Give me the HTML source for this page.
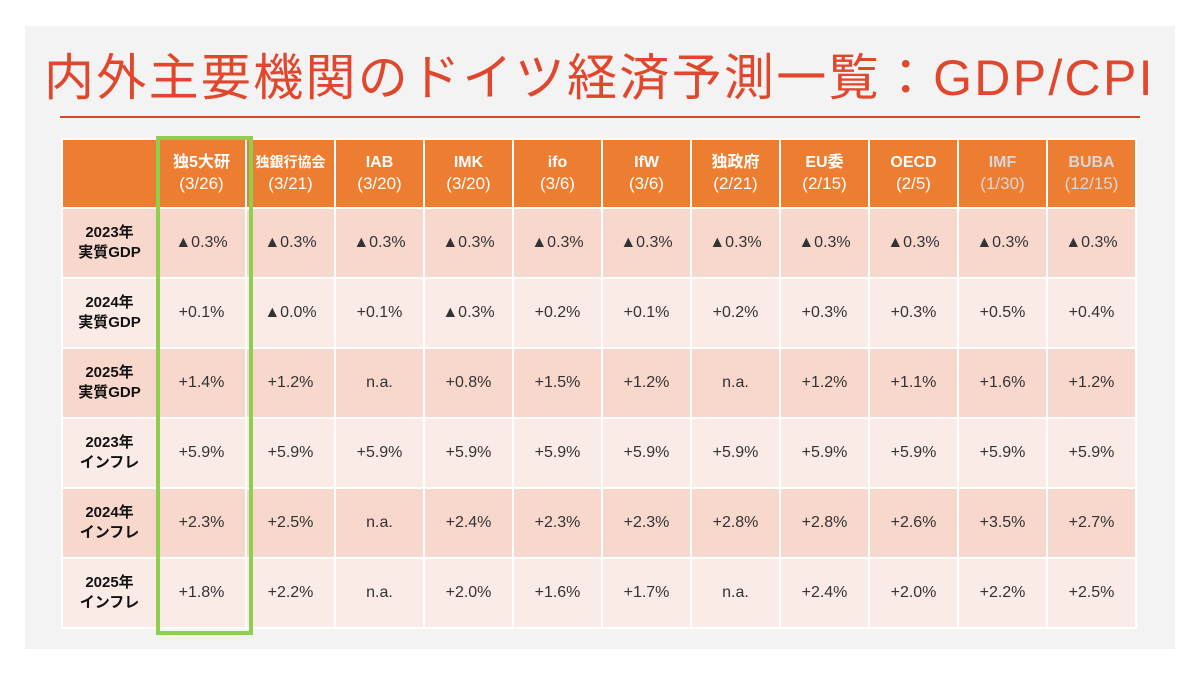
<!DOCTYPE html>
<html><head><meta charset="utf-8">
<style>
body{margin:0;width:1200px;height:675px;background:#fff;overflow:hidden;font-family:"Liberation Sans","Noto Sans CJK JP",sans-serif;}
#panel{position:absolute;left:25px;top:26px;width:1150px;height:623px;background:#f3f3f3;}
#title{position:absolute;left:44px;top:38px;font-size:50px;color:#e0472c;white-space:nowrap;letter-spacing:2.3px;}
#rule{position:absolute;left:60px;top:116px;width:1080px;height:2px;background:#d9472b;}
table{position:absolute;left:61px;top:138px;border-collapse:collapse;table-layout:fixed;}
td,th{border:2px solid #fff;text-align:center;padding:0;height:68px;}
th{background:#ed7d31;color:#fff;font-size:16px;font-weight:bold;line-height:21px;height:67px;}
th .d{font-weight:normal;font-size:17px;}
th.g{color:#d7d7d7;}
td{font-size:16px;color:#333;}
td.h{font-weight:bold;color:#111;font-size:15px;line-height:20px;}
tr.a td{background:#f8d7cd;}
tr.b td{background:#fbebe7;}
#hl{position:absolute;left:156px;top:136px;width:89px;height:491px;border:4px solid #8fcf4f;}
</style></head><body>
<div id="panel"></div>
<div id="title">内外主要機関のドイツ経済予測一覧：GDP/CPI</div>
<div id="rule"></div>
<table>
<colgroup><col style="width:95px"><col span="11" style="width:89px"></colgroup>
<tr>
<th></th>
<th>独5大研<br><span class="d">(3/26)</span></th>
<th style="font-size:14px">独銀行協会<br><span class="d">(3/21)</span></th>
<th>IAB<br><span class="d">(3/20)</span></th>
<th>IMK<br><span class="d">(3/20)</span></th>
<th>ifo<br><span class="d">(3/6)</span></th>
<th>IfW<br><span class="d">(3/6)</span></th>
<th>独政府<br><span class="d">(2/21)</span></th>
<th>EU委<br><span class="d">(2/15)</span></th>
<th>OECD<br><span class="d">(2/5)</span></th>
<th class="g">IMF<br><span class="d">(1/30)</span></th>
<th class="g">BUBA<br><span class="d">(12/15)</span></th>
</tr>
<tr class="a"><td class="h">2023年<br>実質GDP</td><td>▲0.3%</td><td>▲0.3%</td><td>▲0.3%</td><td>▲0.3%</td><td>▲0.3%</td><td>▲0.3%</td><td>▲0.3%</td><td>▲0.3%</td><td>▲0.3%</td><td>▲0.3%</td><td>▲0.3%</td></tr>
<tr class="b"><td class="h">2024年<br>実質GDP</td><td>+0.1%</td><td>▲0.0%</td><td>+0.1%</td><td>▲0.3%</td><td>+0.2%</td><td>+0.1%</td><td>+0.2%</td><td>+0.3%</td><td>+0.3%</td><td>+0.5%</td><td>+0.4%</td></tr>
<tr class="a"><td class="h">2025年<br>実質GDP</td><td>+1.4%</td><td>+1.2%</td><td>n.a.</td><td>+0.8%</td><td>+1.5%</td><td>+1.2%</td><td>n.a.</td><td>+1.2%</td><td>+1.1%</td><td>+1.6%</td><td>+1.2%</td></tr>
<tr class="b"><td class="h">2023年<br>インフレ</td><td>+5.9%</td><td>+5.9%</td><td>+5.9%</td><td>+5.9%</td><td>+5.9%</td><td>+5.9%</td><td>+5.9%</td><td>+5.9%</td><td>+5.9%</td><td>+5.9%</td><td>+5.9%</td></tr>
<tr class="a"><td class="h">2024年<br>インフレ</td><td>+2.3%</td><td>+2.5%</td><td>n.a.</td><td>+2.4%</td><td>+2.3%</td><td>+2.3%</td><td>+2.8%</td><td>+2.8%</td><td>+2.6%</td><td>+3.5%</td><td>+2.7%</td></tr>
<tr class="b"><td class="h">2025年<br>インフレ</td><td>+1.8%</td><td>+2.2%</td><td>n.a.</td><td>+2.0%</td><td>+1.6%</td><td>+1.7%</td><td>n.a.</td><td>+2.4%</td><td>+2.0%</td><td>+2.2%</td><td>+2.5%</td></tr>
</table>
<div id="hl"></div>
</body></html>
